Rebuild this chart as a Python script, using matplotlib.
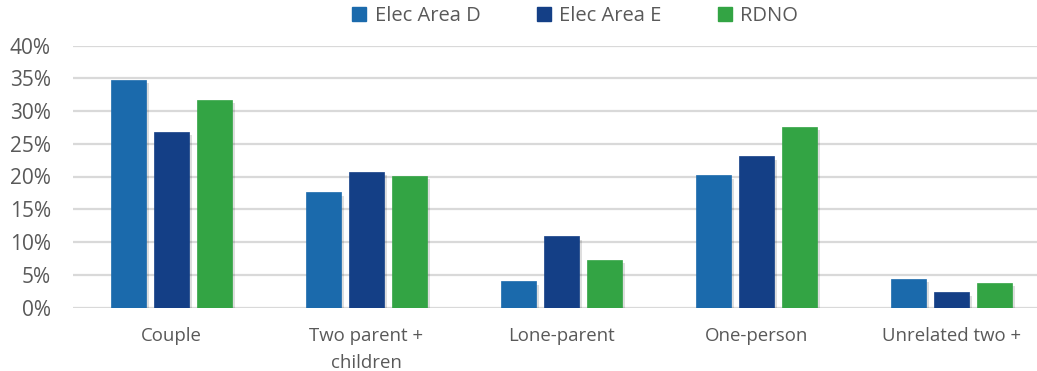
import matplotlib
matplotlib.use("Agg")
import matplotlib.pyplot as plt
import matplotlib.patheffects as pe
from matplotlib.patches import Patch
import numpy as np

categories = ["Couple", "Two parent +\nchildren", "Lone-parent", "One-person", "Unrelated two +"]
series_names = ["Elec Area D", "Elec Area E", "RDNO"]
elec_area_d = [34.8, 17.6, 4.0, 20.2, 4.4]
elec_area_e = [26.8, 20.7, 10.9, 23.1, 2.3]
rdno = [31.7, 20.1, 7.3, 27.6, 3.8]
colors = ["#1B6AAC", "#143F86", "#33A444"]
yticks = [0, 5, 10, 15, 20, 25, 30, 35, 40]
ytick_labels = ["0%", "5%", "10%", "15%", "20%", "25%", "30%", "35%", "40%"]

plt.rcParams['font.family'] = ['Open Sans', 'DejaVu Sans']
text_color = "#595959"

fig = plt.figure(figsize=(10.37, 3.71), dpi=100)
ax = fig.add_axes([73/1037, 1 - 307.5/371, (1037-73)/1037, (307.5-45.5)/371])

x = np.arange(len(categories))
width = 0.177
step = 0.221
shadow = [pe.SimplePatchShadow(offset=(2.5, -2.5), shadow_rgbFace="#000000", alpha=0.13), pe.Normal()]
handles = []
for i, (vals, name, c) in enumerate(zip([elec_area_d, elec_area_e, rdno], series_names, colors)):
    bars = ax.bar(x + (i - 1) * step, vals, width, color=c, label=name, zorder=3,
                  edgecolor=c, linewidth=0.5)
    for b in bars:
        b.set_path_effects(shadow)
    handles.append(Patch(facecolor=c, edgecolor=c, label=name))

ax.set_ylim(0, 40)
ax.set_xlim((73 - 171.5) / 195, (1037 - 171.5) / 195)
ax.set_yticks(yticks)
ax.set_yticklabels(ytick_labels)
ax.set_xticks(x)
ax.set_xticklabels(categories, linespacing=1.65)
ax.yaxis.grid(True, color="#D9D9D9", linewidth=1.6, zorder=0)
ax.set_axisbelow(True)
for s in ax.spines.values():
    s.set_visible(False)
ax.tick_params(axis='both', length=0, colors=text_color)
ax.tick_params(axis='y', pad=16, labelsize=15)
ax.tick_params(axis='x', pad=14, labelsize=13.4)

leg = fig.legend(handles=handles, labels=series_names, loc='center', ncol=3,
                 bbox_to_anchor=(575/1037, 1 - 16/371), frameon=False,
                 fontsize=14.5, labelcolor=text_color, handlelength=0.7, handleheight=0.7,
                 handletextpad=0.4, columnspacing=2.8)

fig.savefig("out.png", dpi=100)
